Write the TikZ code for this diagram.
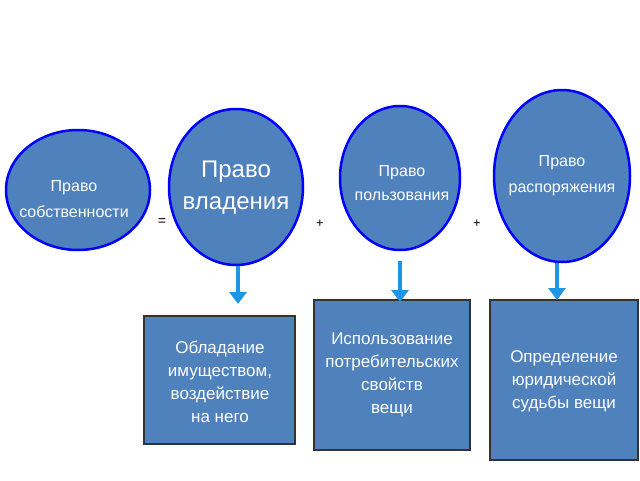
\documentclass[tikz,border=0pt]{standalone}
\usepackage{fontspec}
\setmainfont{Liberation Sans}
\usetikzlibrary{arrows.meta}
\begin{document}
\begin{tikzpicture}[x=1pt,y=-1pt,
  box/.style={draw=black!80,line width=1.5pt,fill=cblue},
  lbl/.style={text=white,align=center,inner sep=0pt},
  arr/.style={draw=aqua,line width=3.5pt,-{Triangle[length=12pt,width=17pt]}}]
\useasboundingbox (0,0) rectangle (640,480);
\definecolor{cblue}{HTML}{4F81BD}
\definecolor{aqua}{HTML}{1E96E6}
\fill[cblue,draw=blue,line width=2.5pt] (78,190) ellipse [x radius=72,y radius=60];
\fill[cblue,draw=blue,line width=2.5pt] (236,187) ellipse [x radius=67,y radius=78];
\fill[cblue,draw=blue,line width=2.5pt] (400,178) ellipse [x radius=60,y radius=72];
\fill[cblue,draw=blue,line width=2.5pt] (562,176) ellipse [x radius=68,y radius=86];
\node[lbl,font=\fontsize{16}{26}\selectfont] (c1) at (74,199) {Право\\собственности};
\node[lbl,font=\fontsize{24}{32}\selectfont] (c2) at (236,188) {Право\\владения};
\node[lbl,font=\fontsize{16}{24}\selectfont] (c3) at (402,183) {Право\\пользования};
\node[lbl,font=\fontsize{16}{26}\selectfont] (c4) at (562,176) {Право\\распоряжения};
\node[font=\fontsize{14}{16}\selectfont] (eq) at (162,222) {=};
\node[font=\fontsize{13}{16}\selectfont] (p1) at (320,224) {+};
\node[font=\fontsize{13}{16}\selectfont] (p2) at (477,224) {+};
\fill[box] (144,316) rectangle (295,444);
\fill[box] (314,300) rectangle (470,450);
\fill[box] (490,300) rectangle (638,460);
\node[lbl,font=\fontsize{17}{23}\selectfont] (b1) at (220,382) {Обладание\\имуществом,\\воздействие\\на него};
\node[lbl,font=\fontsize{17}{23}\selectfont] (b2) at (392,375) {Использование\\потребительских\\свойств\\вещи};
\node[lbl,font=\fontsize{17}{23}\selectfont] (b3) at (564,381) {Определение\\юридической\\судьбы вещи};
\coordinate (a1) at (238,266); \coordinate (a1e) at (238,304);
\coordinate (a2) at (400,261); \coordinate (a2e) at (400,302);
\coordinate (a3) at (557,263); \coordinate (a3e) at (557,300);
\draw[arr] (a1) -- (a1e);
\draw[arr] (a2) -- (a2e);
\draw[arr] (a3) -- (a3e);
\end{tikzpicture}
\end{document}
